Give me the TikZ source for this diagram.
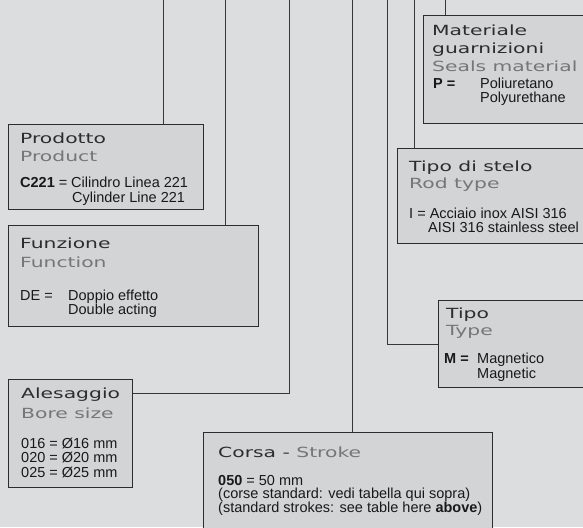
\documentclass[tikz,border=0pt]{standalone}
\usepackage{fontspec}
\setmainfont{Liberation Sans}
\newfontfamily\titlefam[FakeStretch=1.45]{DejaVu Sans}
\usepackage{tikz}

\definecolor{bgcol}{RGB}{220,221,223}
\definecolor{boxfill}{RGB}{211,212,214}
\definecolor{boxline}{RGB}{45,45,45}
\definecolor{linegrey}{RGB}{55,55,55}
\definecolor{titlegrey}{RGB}{45,45,45}
\definecolor{engrey}{RGB}{118,118,118}
\definecolor{bodyblack}{RGB}{25,25,25}

\newcommand{\titlesize}{\titlefam\fontsize{14pt}{17pt}\selectfont}
\newcommand{\bodysize}{\fontsize{14.5pt}{14.5pt}\selectfont}

\tikzset{
  infobox/.style={draw=boxline, fill=boxfill, line width=1.2pt, inner sep=0pt, anchor=north west},
  titleit/.style={anchor=base west, inner sep=0pt, text=titlegrey, font=\titlesize},
  titleen/.style={titleit, text=engrey},
  bodytext/.style={anchor=base west, inner sep=0pt, text=bodyblack, font=\bodysize},
  link/.style={draw=linegrey, line width=1pt}
}

\begin{document}
\begin{tikzpicture}[x=1pt, y=-1pt]
\useasboundingbox (0,0) rectangle (583,527);
\fill[bgcol] (0,0) rectangle (583,527);
\clip (0,0) rectangle (583,527);

% free ends at the top edge
\coordinate (c1) at (163,0);
\coordinate (c2) at (225,0);
\coordinate (c3) at (289,0);
\coordinate (c4) at (352,0);
\coordinate (c5) at (387,0);
\coordinate (c6) at (414,0);
\coordinate (c7) at (445,0);

% boxes
\node[infobox, minimum width=200pt, minimum height=108pt] (mat) at (423,15) {};
\node[infobox, minimum width=195pt, minimum height=85pt] (prod) at (8,124) {};
\node[infobox, minimum width=250pt, minimum height=101pt] (funz) at (8,225) {};
\node[infobox, minimum width=124pt, minimum height=108pt] (ales) at (8,379) {};
\node[infobox, minimum width=289pt, minimum height=120pt] (corsa) at (203,432) {};
\node[infobox, minimum width=200pt, minimum height=95pt] (stelo) at (397,148) {};
\node[infobox, minimum width=160pt, minimum height=87pt] (tipo) at (438,300) {};

% connectors
\draw[link] (c1) -- (c1 |- prod.north);
\draw[link] (c2) -- (c2 |- funz.north);
\draw[link] ([yshift=-14pt]ales.north east) -| (c3);
\draw[link] (c4) -- (c4 |- corsa.north);
\draw[link] (c5) |- (tipo.west);
\draw[link] (c6) -- (c6 |- stelo.north);
\draw[link] (c7) -- (c7 |- mat.north);

% Materiale guarnizioni
\node[titleit] (matT1) at (432,36) {Materiale};
\node[titleit] (matT2) at (432,53) {guarnizioni};
\node[titleen] (matE) at (432,71) {Seals material};
\node[bodytext] (matK) at (433,88) {\textbf{P =}};
\node[bodytext] (matV1) at (480,88) {Poliuretano};
\node[bodytext] (matV2) at (480,102) {Polyurethane};

% Prodotto
\node[titleit] (prodT) at (20,143) {Prodotto};
\node[titleen] (prodE) at (20,161) {Product};
\node[bodytext] (prodK) at (20,187) {\textbf{C221} =};
\node[bodytext] (prodV1) at (71,187) {Cilindro Linea 221};
\node[bodytext] (prodV2) at (72,202) {Cylinder Line 221};

% Funzione
\node[titleit] (funzT) at (20,248) {Funzione};
\node[titleen] (funzE) at (20,267) {Function};
\node[bodytext] (funzK) at (20,300) {DE =};
\node[bodytext] (funzV1) at (68,300) {Doppio effetto};
\node[bodytext] (funzV2) at (68,314.5) {Double acting};

% Alesaggio
\node[titleit] (alesT) at (21,398) {Alesaggio};
\node[titleen] (alesE) at (21,418) {Bore size};
\node[bodytext] (alesV1) at (21,448) {016 = Ø16 mm};
\node[bodytext] (alesV2) at (21,462.5) {020 = Ø20 mm};
\node[bodytext] (alesV3) at (21,477) {025 = Ø25 mm};

% Corsa
\node[titleit] (corsaT) at (218,457) {Corsa - \textcolor{engrey}{Stroke}};
\node[bodytext] (corsaV1) at (218,485) {\textbf{050} = 50 mm};
\node[bodytext] (corsaV2) at (218,498.5) {(corse standard: vedi tabella qui sopra)};
\node[bodytext] (corsaV3) at (218,512.5) {(standard strokes: see table here \textbf{above})};

% Tipo di stelo
\node[titleit] (steloT) at (409,171) {Tipo di stelo};
\node[titleen] (steloE) at (409,188) {Rod type};
\node[bodytext] (steloV1) at (409,218) {I = Acciaio inox AISI 316};
\node[bodytext] (steloV2) at (428,232) {AISI 316 stainless steel};

% Tipo
\node[titleit] (tipoT) at (446,318) {Tipo};
\node[titleen] (tipoE) at (446,335) {Type};
\node[bodytext] (tipoK) at (444,363) {\textbf{M =}};
\node[bodytext] (tipoV1) at (477,363) {Magnetico};
\node[bodytext] (tipoV2) at (477,378) {Magnetic};

\end{tikzpicture}
\end{document}
